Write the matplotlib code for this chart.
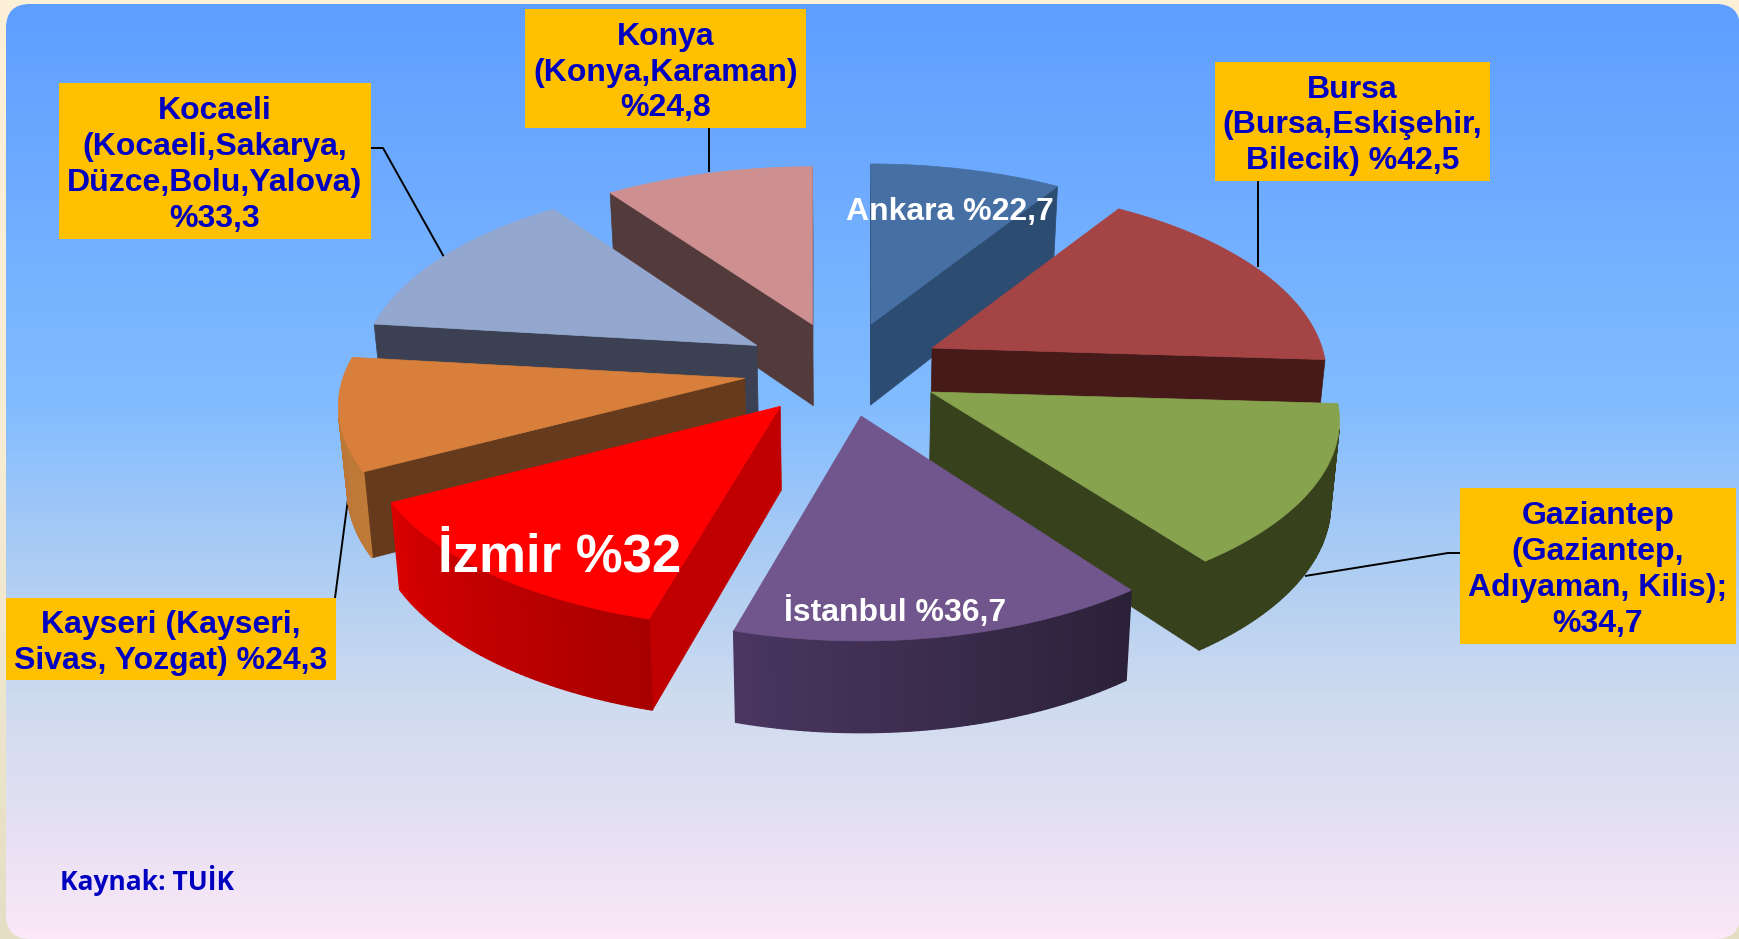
import numpy as np
import matplotlib
matplotlib.use('Agg')
import matplotlib.pyplot as plt
from matplotlib.colors import LinearSegmentedColormap, to_rgb
from matplotlib.patches import FancyBboxPatch, Polygon, Rectangle

# slices, clockwise from 12 o'clock
regions = ['Ankara', 'Bursa', 'Gaziantep', 'İstanbul', 'İzmir', 'Kayseri', 'Kocaeli', 'Konya']
shares = [22.7, 42.5, 34.7, 36.7, 32.0, 24.3, 33.3, 24.8]

top_colors = ['#4670A4', '#A54444', '#88A34E', '#70568C', '#FF0000', '#D77F3B', '#94A7CE', '#CD8F8F']
cut_colors = ['#2D4C71', '#451A18', '#37421D', '#2F243F', '#C00000', '#663A1C', '#3B4152', '#533A3B']
rim_start = ['#2D4C71', '#451A18', '#37421D', '#2A2138', '#A80000', '#C07A38', '#3B4152', '#533A3B']
rim_end = ['#2D4C71', '#451A18', '#37421D', '#4A3660', '#D80000', '#B87233', '#3B4152', '#533A3B']

# text boxes
box_names = ['Konya', 'Bursa', 'Kocaeli', 'Gaziantep', 'Kayseri']
box_texts = ['Konya\n(Konya,Karaman)\n%24,8',
             'Bursa\n(Bursa,Eskişehir,\nBilecik) %42,5',
             'Kocaeli\n(Kocaeli,Sakarya,\nDüzce,Bolu,Yalova)\n%33,3',
             'Gaziantep\n(Gaziantep,\nAdıyaman, Kilis);\n%34,7',
             'Kayseri (Kayseri,\nSivas, Yozgat) %24,3']
box_rects = [(525, 9, 806, 128), (1215, 62, 1490, 181), (59, 83, 371, 239),
             (1460, 488, 1736, 644), (6, 598, 336, 680)]
leaders = [[(709, 128), (709, 172)],
           [(1258, 181), (1258, 267)],
           [(371, 148), (383, 148), (444, 257)],
           [(1460, 553), (1448, 553), (1305, 576)],
           [(335, 598), (348, 499)]]

# pie projection
cx, cy = 843, 369.5
ex, ey = 100, 47.3
ax_r, ay_r = 398, 184
persp = 0.149
gain_x = [0.98, 0.98, 1.015, 1.0, 1.03, 1.01, 0.985, 0.98]
gain_y = [1.0, 1.01, 1.01, 1.04, 1.03, 1.0, 1.02, 0.985]


def rim_point(apex, th, i):
    s = 1.0/(1.0 + persp*np.cos(th))
    return apex[0] + gain_x[i]*ax_r*s*np.sin(th), apex[1] - gain_y[i]*ay_r*s*np.cos(th)


def drop(p):
    d = 81 + (p[1] - 324)*0.034
    return p[0] - (p[0] - cx)*0.018, p[1] + d


def area(pts):
    tot = 0.0
    for i in range(len(pts)):
        x0, y0 = pts[i]
        x1, y1 = pts[(i + 1) % len(pts)]
        tot += x0*y1 - x1*y0
    return tot


def mix(c0, c1, f):
    c0, c1 = np.array(to_rgb(c0)), np.array(to_rgb(c1))
    return tuple(c0 + (c1 - c0)*f)


fig = plt.figure(figsize=(17.4, 9.39), dpi=100)
ax = fig.add_axes([0, 0, 1, 1])
ax.axis('off')

back = LinearSegmentedColormap.from_list('back', ['#FDF0D8', '#F6ECD3', '#E4DEC4'])
ax.imshow(np.linspace(0, 1, 256).reshape(-1, 1), cmap=back, extent=(0, 1740, 939, 0),
          aspect='auto', zorder=0)

panel = LinearSegmentedColormap.from_list('panel', [(0, '#5E9EFF'), (0.43, '#82BCFF'), (0.62, '#B2CFF2'),
                                                    (0.75, '#CFDBEF'), (0.88, '#E5E0F3'), (1, '#FBE8F8')])
im = ax.imshow(np.linspace(0, 1, 256).reshape(-1, 1), cmap=panel, extent=(6, 1740, 939, 4),
               aspect='auto', zorder=1)
clip = FancyBboxPatch((6 + 24, 4 + 24), 1734 - 48, 935 - 48, boxstyle='round,pad=24,rounding_size=24',
                      transform=ax.transData, fc='none', ec='none')
ax.add_patch(clip)
im.set_clip_path(clip)

ax.set_xlim(0, 1740)
ax.set_ylim(939, 0)

for pts in leaders:
    ax.plot([p[0] for p in pts], [p[1] for p in pts], color='black', lw=1.4, zorder=2,
            solid_capstyle='butt')

edges = np.radians(np.concatenate([[0], np.cumsum(shares)])*360.0/sum(shares))
mids = (edges[:-1] + edges[1:])/2
order = np.argsort(-np.cos(mids))

z = 3
for i in order:
    th0, th1 = edges[i], edges[i + 1]
    apex = (cx + ex*np.sin(mids[i]), cy - ey*np.cos(mids[i]))
    thetas = np.linspace(th0, th1, 60)
    rim = [rim_point(apex, t, i) for t in thetas]

    # cut faces, only when they look at the viewer
    quad = [apex, rim[0], drop(rim[0]), drop(apex)]
    if area(quad) < 0:
        ax.add_patch(Polygon(quad, closed=True, fc=cut_colors[i], ec=cut_colors[i], lw=0.5, zorder=z))
    quad = [apex, rim[-1], drop(rim[-1]), drop(apex)]
    if area(quad) > 0:
        ax.add_patch(Polygon(quad, closed=True, fc=cut_colors[i], ec=cut_colors[i], lw=0.5, zorder=z))

    for k in range(len(rim) - 1):
        quad = [rim[k], rim[k + 1], drop(rim[k + 1]), drop(rim[k])]
        if area(quad) < 0:
            col = mix(rim_start[i], rim_end[i], k/(len(rim) - 2))
            ax.add_patch(Polygon(quad, closed=True, fc=col, ec=col, lw=1.0, zorder=z))

    ax.add_patch(Polygon([apex] + rim, closed=True, fc=top_colors[i], ec=top_colors[i], lw=0.5, zorder=z + 0.5))
    z += 1

for rect, txt in zip(box_rects, box_texts):
    ax.add_patch(Rectangle((rect[0], rect[1]), rect[2] - rect[0], rect[3] - rect[1], fc='#FFC000', ec='none', zorder=20))
    ax.text((rect[0] + rect[2])/2, (rect[1] + rect[3])/2 + 4, txt, ha='center', va='center', color='#0000C0',
            family='Liberation Sans', weight='bold', fontsize=23, linespacing=1.26, zorder=21)

ax.text(950, 212, 'Ankara %22,7', ha='center', va='center', color='white', family='Liberation Sans',
        weight='bold', fontsize=23, zorder=21)
ax.text(895, 612, 'İstanbul %36,7', ha='center', va='center', color='white', family='Liberation Sans',
        weight='bold', fontsize=23, zorder=21)
ax.text(560, 557, 'İzmir %32', ha='center', va='center', color='white', family='Liberation Sans',
        weight='bold', fontsize=38, zorder=21)
ax.text(60, 880, 'Kaynak: TUİK', ha='left', va='center', color='#0000C0', family='Open Sans',
        weight='bold', fontsize=19, zorder=21)

fig.savefig('out.png', dpi=100)
